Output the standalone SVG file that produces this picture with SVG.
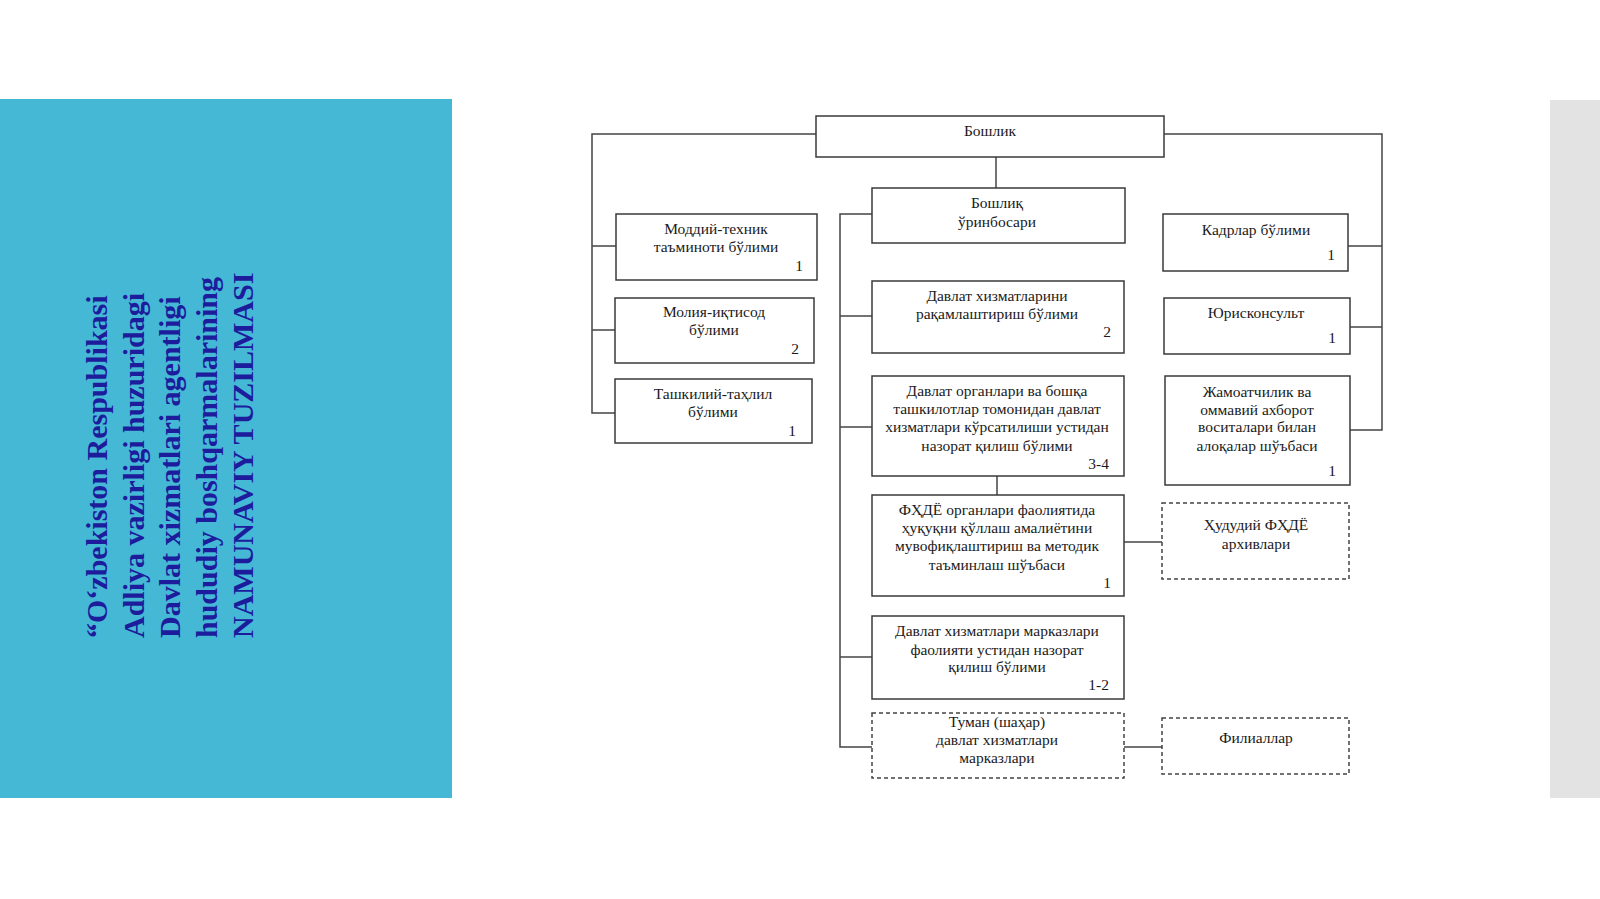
<svg xmlns="http://www.w3.org/2000/svg" width="1600" height="899" viewBox="0 0 1600 899">
<style>
.box{fill:#fff;stroke:#3a3a3a;stroke-width:1.5}
.dash{fill:#fff;stroke:#444;stroke-width:1.5;stroke-dasharray:4 3}
.con{fill:none;stroke:#444;stroke-width:1.5}
.t{font-family:"Liberation Serif","Times New Roman",serif;font-size:15.5px;fill:#1a1a1a;text-anchor:middle}
.n{font-family:"Liberation Serif","Times New Roman",serif;font-size:15.5px;fill:#1a1a1a;text-anchor:end}
.title{font-family:"Liberation Serif","Times New Roman",serif;font-size:30px;font-weight:bold;fill:#1c1c9c}
</style>
<rect width="1600" height="899" fill="#fff"/>
<rect x="0" y="99" width="452" height="699" fill="#45b8d6"/>
<rect x="1550" y="100" width="50" height="698" fill="#e3e3e3"/>
<g id="title" transform="translate(0,638) rotate(-90)">
<text class="title" x="0" y="107">“O‘zbekiston Respublikasi</text>
<text class="title" x="0" y="143.5">Adliya vazirligi huzuridagi</text>
<text class="title" x="0" y="180">Davlat xizmatlari agentligi</text>
<text class="title" x="0" y="216.5">hududiy boshqarmalarining</text>
<text class="title" x="0" y="253">NAMUNAVIY TUZILMASI</text>
</g>
<g id="connectors">
<polyline class="con" points="816,134 592,134 592,413 615,413"/>
<line class="con" x1="592" y1="246" x2="616" y2="246"/>
<line class="con" x1="592" y1="330" x2="615" y2="330"/>
<polyline class="con" points="1164,134 1382,134 1382,430 1350,430"/>
<line class="con" x1="1382" y1="246" x2="1348" y2="246"/>
<line class="con" x1="1382" y1="327" x2="1350" y2="327"/>
<line class="con" x1="996" y1="157" x2="996" y2="188"/>
<polyline class="con" points="872,214 840,214 840,747 872,747"/>
<line class="con" x1="840" y1="316" x2="872" y2="316"/>
<line class="con" x1="840" y1="427" x2="872" y2="427"/>
<line class="con" x1="840" y1="657" x2="872" y2="657"/>
<line class="con" x1="997" y1="476" x2="997" y2="495"/>
<line class="con" x1="1124" y1="542" x2="1162" y2="542"/>
<line class="con" x1="1124" y1="747" x2="1162" y2="747"/>
</g>
<g id="boshlik">
<rect class="box" x="816" y="116" width="348" height="41"/>
<text class="t" x="990" y="136">Бошлик</text>
</g>
<g id="orinbosar">
<rect class="box" x="872" y="188" width="253" height="55"/>
<text class="t" x="997" y="208">Бошлиқ</text>
<text class="t" x="997" y="227">ўринбосари</text>
</g>
<g id="moddiy">
<rect class="box" x="616" y="214" width="201" height="66"/>
<text class="t" x="716" y="234">Моддий-техник</text>
<text class="t" x="716" y="252">таъминоти бўлими</text>
<text class="n" x="803" y="271">1</text>
</g>
<g id="moliya">
<rect class="box" x="615" y="298" width="199" height="65"/>
<text class="t" x="714" y="317">Молия-иқтисод</text>
<text class="t" x="714" y="335">бўлими</text>
<text class="n" x="799" y="354">2</text>
</g>
<g id="tashkiliy">
<rect class="box" x="615" y="379" width="197" height="64"/>
<text class="t" x="713" y="399">Ташкилий-таҳлил</text>
<text class="t" x="713" y="417">бўлими</text>
<text class="n" x="796" y="436">1</text>
</g>
<g id="raqamlashtirish">
<rect class="box" x="872" y="281" width="252" height="72"/>
<text class="t" x="997" y="301">Давлат хизматларини</text>
<text class="t" x="997" y="319">рақамлаштириш бўлими</text>
<text class="n" x="1111" y="337">2</text>
</g>
<g id="nazorat">
<rect class="box" x="872" y="376" width="252" height="100"/>
<text class="t" x="997" y="396">Давлат органлари ва бошқа</text>
<text class="t" x="997" y="414">ташкилотлар томонидан давлат</text>
<text class="t" x="997" y="432">хизматлари кўрсатилиши устидан</text>
<text class="t" x="997" y="451">назорат қилиш бўлими</text>
<text class="n" x="1109" y="469">3-4</text>
</g>
<g id="fhde">
<rect class="box" x="872" y="495" width="252" height="101"/>
<text class="t" x="997" y="515">ФҲДЁ органлари фаолиятида</text>
<text class="t" x="997" y="533">ҳуқуқни қўллаш амалиётини</text>
<text class="t" x="997" y="551">мувофиқлаштириш ва методик</text>
<text class="t" x="997" y="570">таъминлаш шўъбаси</text>
<text class="n" x="1111" y="588">1</text>
</g>
<g id="markazlar">
<rect class="box" x="872" y="616" width="252" height="83"/>
<text class="t" x="997" y="636">Давлат хизматлари марказлари</text>
<text class="t" x="997" y="655">фаолияти устидан назорат</text>
<text class="t" x="997" y="672">қилиш бўлими</text>
<text class="n" x="1109" y="690">1-2</text>
</g>
<g id="tuman">
<rect class="dash" x="872" y="713" width="252" height="65"/>
<text class="t" x="997" y="727">Туман (шаҳар)</text>
<text class="t" x="997" y="745">давлат хизматлари</text>
<text class="t" x="997" y="763">марказлари</text>
</g>
<g id="kadrlar">
<rect class="box" x="1163" y="214" width="185" height="57"/>
<text class="t" x="1256" y="235">Кадрлар бўлими</text>
<text class="n" x="1335" y="260">1</text>
</g>
<g id="yuriskonsult">
<rect class="box" x="1164" y="298" width="186" height="56"/>
<text class="t" x="1256" y="318">Юрисконсульт</text>
<text class="n" x="1336" y="343">1</text>
</g>
<g id="jamoatchilik">
<rect class="box" x="1165" y="376" width="185" height="109"/>
<text class="t" x="1257" y="397">Жамоатчилик ва</text>
<text class="t" x="1257" y="415">оммавий ахборот</text>
<text class="t" x="1257" y="432">воситалари билан</text>
<text class="t" x="1257" y="451">алоқалар шўъбаси</text>
<text class="n" x="1336" y="476">1</text>
</g>
<g id="hududiy">
<rect class="dash" x="1162" y="503" width="187" height="76"/>
<text class="t" x="1256" y="530">Ҳудудий ФҲДЁ</text>
<text class="t" x="1256" y="549">архивлари</text>
</g>
<g id="filiallar">
<rect class="dash" x="1162" y="718" width="187" height="56"/>
<text class="t" x="1256" y="743">Филиаллар</text>
</g>
</svg>
